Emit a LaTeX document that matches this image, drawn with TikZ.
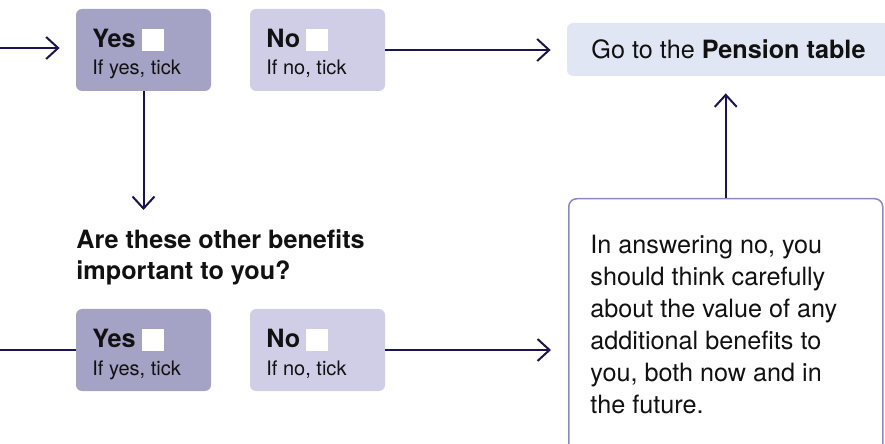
\documentclass[tikz,border=0pt]{standalone}
\usepackage{fontspec}
\setmainfont{TeX Gyre Heros}
\usetikzlibrary{arrows.meta}

\definecolor{navy}{HTML}{1C1452}
\definecolor{yesfill}{HTML}{A4A3C6}
\definecolor{nofill}{HTML}{D0CEE7}
\definecolor{gofill}{HTML}{E1E6F4}
\definecolor{noteline}{HTML}{8B88C5}
\definecolor{ink}{HTML}{111111}

\newcommand{\tickbox}{\raisebox{-1.5pt}{\textcolor{white}{\rule{11pt}{11pt}}}}

\tikzset{
  flow/.style={navy, line width=1pt},
  flowarrow/.style={flow, -{Straight Barb[length=6pt,width=11pt]}},
  choicebox/.style={rounded corners=3pt, minimum width=67.5pt, minimum height=41pt, inner sep=0pt},
  yesbox/.style={choicebox, fill=yesfill},
  nobox/.style={choicebox, fill=nofill},
  txt/.style={inner sep=0pt, text=ink, font=\fontsize{12.6}{16}\selectfont},
  smalltxt/.style={inner sep=0pt, text=ink, font=\fontsize{10}{12}\selectfont},
}

\begin{document}
\begin{tikzpicture}[x=0.5pt, y=-0.5pt]
    \useasboundingbox (0,0) rectangle (885,444);
    \clip (0,0) rectangle (885,444);
    % Yes / No boxes for both questions
    \foreach \r/\y in {1/50, 2/350} {
        \node[yesbox] (yes\r) at (143.5,\y) {};
        \node[nobox] (no\r) at (317.5,\y) {};
        \node[txt, anchor=base west] (yes\r a) at (92,\y-2) {\bfseries Yes\hspace{3pt}\tickbox};
        \node[smalltxt, anchor=base west] (yes\r b) at (92,\y+25) {If yes, tick};
        \node[txt, anchor=base west] (no\r a) at (266,\y-2) {\bfseries No\hspace{3pt}\tickbox};
        \node[smalltxt, anchor=base west] (no\r b) at (266,\y+25) {If no, tick};
    }
    % Pension table box
    \node[txt, fill=gofill, rounded corners=3pt, minimum width=161.5pt, minimum height=26.5pt] (goto) at (728.5,49.5) {Go to the \textbf{Pension table}};
    % Second question
    \node[txt, anchor=north west, align=left, font=\bfseries\fontsize{12.6}{15.7}\selectfont] (quest) at (76,229) {Are these other benefits\\important to you?};
    % Note box, open at the bottom
    \node[draw=noteline, line width=0.75pt, rounded corners=4pt, minimum width=157pt, minimum height=150pt, anchor=north west, inner sep=0pt] (note) at (568,198) {};
    \node[txt, anchor=north west, align=left] (notet) at (590,235) {In answering no, you\\should think carefully\\about the value of any\\additional benefits to\\you, both now and in\\the future.};
    % Free ends of the lines coming in from the left
    \coordinate (in1) at (0,48);
    \coordinate (in2) at (0,350);
    \coordinate (qtop) at (143.5,210);
    % Connectors
    \draw[flowarrow, shorten >=8pt] (in1) -- (in1 -| yes1.west);
    \draw[flow] (in2) -- (in2 -| yes2.west);
    \draw[flowarrow] (yes1.south) -- (qtop);
    \draw[flowarrow, shorten >=8pt] (no1.east) -- (no1.east -| goto.west);
    \draw[flowarrow, shorten >=8.5pt] (no2.east) -- (no2.east -| note.west);
    \draw[flowarrow, shorten >=8.5pt] (note.north) -- (note.north |- goto.south);
\end{tikzpicture}
\end{document}
